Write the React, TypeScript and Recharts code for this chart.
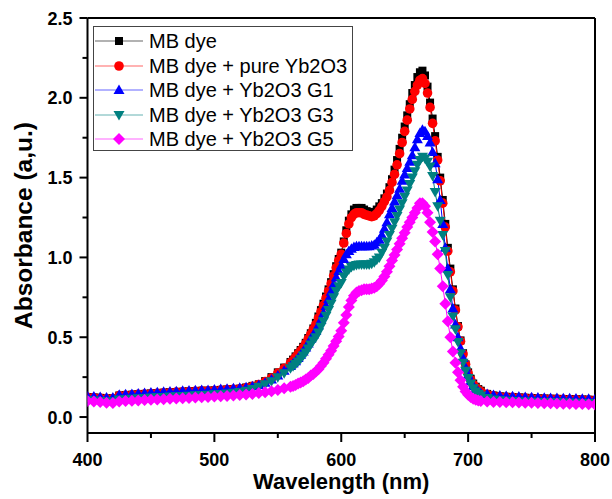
import React from 'react'
import { LineChart, Line, XAxis, YAxis, ReferenceLine, Label } from 'recharts'

// wavelength grid (nm) – coarse in the flat parts, 2 nm across the band
const wavelengths = [
  400, 405, 410, 415, 420, 425, 430, 435, 440, 445, 450, 455, 460, 465, 470, 475, 480, 485, 490, 495,
  500, 505, 510, 515, 520, 525, 530, 535, 540, 545, 550, 555,
  560, 562, 564, 566, 568, 570, 572, 574, 576, 578, 580, 582, 584, 586, 588, 590, 592, 594, 596, 598,
  600, 602, 604, 606, 608, 610, 612, 614, 616, 618, 620, 622, 624, 626, 628, 630, 632, 634, 636, 638,
  640, 642, 644, 646, 648, 650, 652, 654, 656, 658, 660, 662, 664, 666, 668, 670, 672, 674, 676, 678,
  680, 682, 684, 686, 688, 690, 692, 694, 696, 698, 700, 702, 704, 706, 708, 710,
  715, 720, 725, 730, 735, 740, 745, 750, 755, 760, 765, 770, 775, 780, 785, 790, 795, 800,
]

const mbDye = [
  0.125, 0.123, 0.12, 0.117, 0.117, 0.135, 0.137, 0.14, 0.143, 0.145, 0.148, 0.15, 0.153, 0.155, 0.157, 0.159, 0.161, 0.163, 0.165, 0.165,
  0.167, 0.17, 0.173, 0.175, 0.178, 0.185, 0.195, 0.205, 0.225, 0.25, 0.28, 0.31,
  0.345, 0.36, 0.38, 0.4, 0.42, 0.44, 0.465, 0.495, 0.525, 0.555, 0.59, 0.63, 0.67, 0.71, 0.755, 0.8, 0.845, 0.895, 0.945, 0.99,
  1.03, 1.1, 1.17, 1.23, 1.27, 1.3, 1.31, 1.31, 1.31, 1.3, 1.29, 1.285, 1.28, 1.285, 1.3, 1.32, 1.34, 1.37, 1.4, 1.44,
  1.49, 1.55, 1.61, 1.68, 1.75, 1.82, 1.89, 1.96, 2.03, 2.08, 2.13, 2.16, 2.17, 2.14, 2.07, 1.97, 1.87, 1.76, 1.63, 1.5,
  1.36, 1.21, 1.06, 0.93, 0.8, 0.68, 0.57, 0.48, 0.4, 0.33, 0.28, 0.24, 0.21, 0.19, 0.175, 0.165,
  0.145, 0.135, 0.13, 0.127, 0.125, 0.123, 0.121, 0.119, 0.117, 0.116, 0.115, 0.114, 0.113, 0.112, 0.111, 0.11, 0.109, 0.107,
]

const pureYb = [
  0.124, 0.122, 0.119, 0.116, 0.116, 0.134, 0.136, 0.139, 0.142, 0.144, 0.147, 0.149, 0.152, 0.154, 0.156, 0.158, 0.16, 0.162, 0.164, 0.164,
  0.166, 0.169, 0.172, 0.174, 0.177, 0.183, 0.193, 0.203, 0.222, 0.245, 0.275, 0.305,
  0.34, 0.355, 0.375, 0.395, 0.415, 0.435, 0.46, 0.49, 0.52, 0.55, 0.58, 0.62, 0.66, 0.7, 0.745, 0.79, 0.835, 0.885, 0.935, 0.98,
  1.02, 1.09, 1.15, 1.21, 1.25, 1.27, 1.28, 1.28, 1.28, 1.27, 1.265, 1.26, 1.255, 1.26, 1.275, 1.295, 1.32, 1.35, 1.38, 1.42,
  1.47, 1.52, 1.58, 1.65, 1.72, 1.79, 1.86, 1.93, 1.99, 2.04, 2.08, 2.11, 2.12, 2.09, 2.03, 1.94, 1.84, 1.73, 1.61, 1.48,
  1.34, 1.19, 1.04, 0.91, 0.79, 0.67, 0.565, 0.475, 0.395, 0.33, 0.275, 0.235, 0.205, 0.185, 0.17, 0.16,
  0.143, 0.133, 0.128, 0.125, 0.123, 0.121, 0.119, 0.117, 0.115, 0.114, 0.113, 0.112, 0.111, 0.11, 0.109, 0.108, 0.107, 0.105,
]

const ybG1 = [
  0.13, 0.128, 0.125, 0.122, 0.122, 0.14, 0.142, 0.145, 0.148, 0.15, 0.153, 0.155, 0.158, 0.16, 0.162, 0.164, 0.166, 0.168, 0.17, 0.17,
  0.172, 0.175, 0.178, 0.18, 0.183, 0.187, 0.193, 0.2, 0.215, 0.235, 0.26, 0.29,
  0.32, 0.335, 0.35, 0.37, 0.39, 0.41, 0.435, 0.46, 0.49, 0.515, 0.54, 0.575, 0.61, 0.65, 0.695, 0.74, 0.785, 0.83, 0.875, 0.915,
  0.95, 0.99, 1.02, 1.04, 1.055, 1.065, 1.07, 1.07, 1.07, 1.07, 1.07, 1.07, 1.075, 1.08, 1.095, 1.11, 1.14, 1.18, 1.22, 1.27,
  1.31, 1.35, 1.39, 1.43, 1.48, 1.52, 1.56, 1.6, 1.64, 1.69, 1.74, 1.78, 1.8, 1.79, 1.76, 1.72, 1.66, 1.59, 1.49, 1.36,
  1.21, 1.06, 0.93, 0.8, 0.68, 0.58, 0.5, 0.43, 0.37, 0.31, 0.265, 0.225, 0.195, 0.175, 0.16, 0.15,
  0.145, 0.138, 0.135, 0.132, 0.13, 0.128, 0.126, 0.124, 0.122, 0.121, 0.12, 0.119, 0.118, 0.117, 0.116, 0.115, 0.114, 0.112,
]

const ybG3 = [
  0.105, 0.103, 0.1, 0.098, 0.098, 0.11, 0.112, 0.115, 0.117, 0.12, 0.122, 0.124, 0.126, 0.128, 0.13, 0.132, 0.134, 0.136, 0.138, 0.14,
  0.142, 0.145, 0.148, 0.152, 0.157, 0.165, 0.175, 0.19, 0.205, 0.225, 0.25, 0.275,
  0.305, 0.318, 0.332, 0.348, 0.365, 0.385, 0.405, 0.43, 0.455, 0.48, 0.5, 0.53, 0.565, 0.6, 0.635, 0.67, 0.71, 0.75, 0.79, 0.82,
  0.84, 0.88, 0.905, 0.925, 0.94, 0.948, 0.952, 0.955, 0.955, 0.955, 0.955, 0.955, 0.96, 0.97, 0.985, 1.0, 1.03, 1.06, 1.1, 1.14,
  1.18, 1.22, 1.26, 1.3, 1.34, 1.38, 1.42, 1.46, 1.5, 1.54, 1.58, 1.61, 1.63, 1.62, 1.6, 1.57, 1.51, 1.41, 1.32, 1.23,
  1.14, 1.04, 0.89, 0.75, 0.63, 0.55, 0.47, 0.4, 0.34, 0.29, 0.245, 0.21, 0.18, 0.16, 0.145, 0.135,
  0.12, 0.11, 0.105, 0.102, 0.1, 0.098, 0.097, 0.096, 0.095, 0.094, 0.093, 0.092, 0.091, 0.09, 0.089, 0.088, 0.087, 0.086,
]

const ybG5 = [
  0.1, 0.097, 0.094, 0.09, 0.088, 0.098, 0.1, 0.102, 0.104, 0.106, 0.108, 0.11, 0.112, 0.114, 0.116, 0.118, 0.12, 0.122, 0.124, 0.126,
  0.128, 0.13, 0.132, 0.135, 0.138, 0.141, 0.145, 0.15, 0.155, 0.162, 0.17, 0.18,
  0.19, 0.195, 0.2, 0.21, 0.217, 0.225, 0.235, 0.245, 0.26, 0.27, 0.285, 0.3, 0.32, 0.34, 0.365, 0.39, 0.415, 0.445, 0.475, 0.505,
  0.54, 0.59, 0.64, 0.69, 0.73, 0.76, 0.78, 0.79, 0.795, 0.8, 0.8, 0.8, 0.805, 0.81, 0.82, 0.835, 0.855, 0.88, 0.91, 0.945,
  0.98, 1.015, 1.05, 1.085, 1.12, 1.155, 1.19, 1.22, 1.25, 1.28, 1.31, 1.34, 1.34, 1.32, 1.28, 1.22, 1.16, 1.1, 1.02, 0.93,
  0.82, 0.71, 0.6, 0.5, 0.41, 0.34, 0.28, 0.23, 0.19, 0.16, 0.14, 0.125, 0.115, 0.108, 0.104, 0.1,
  0.097, 0.095, 0.094, 0.093, 0.092, 0.091, 0.09, 0.089, 0.088, 0.087, 0.086, 0.085, 0.084, 0.083, 0.082, 0.081, 0.08, 0.079,
]

const xTicks = [400, 450, 500, 550, 600, 650, 700, 750, 800]
const yTicks = [0, 0.25, 0.5, 0.75, 1, 1.25, 1.5, 1.75, 2, 2.25, 2.5]

type Shape = 'square' | 'circle' | 'triangle' | 'triangleDown' | 'diamond'

const series: { key: string; name: string; color: string; shape: Shape; values: number[] }[] = [
  { key: 'mb', name: 'MB dye', color: '#000000', shape: 'square', values: mbDye },
  { key: 'pure', name: 'MB dye + pure Yb2O3', color: '#ff0000', shape: 'circle', values: pureYb },
  { key: 'g1', name: 'MB dye + Yb2O3 G1', color: '#0000ff', shape: 'triangle', values: ybG1 },
  { key: 'g3', name: 'MB dye + Yb2O3 G3', color: '#008080', shape: 'triangleDown', values: ybG3 },
  { key: 'g5', name: 'MB dye + Yb2O3 G5', color: '#ff00ff', shape: 'diamond', values: ybG5 },
]

const data = wavelengths.map((wl, i) => {
  const row: Record<string, number> = { wl }
  series.forEach((s) => {
    row[s.key] = s.values[i]
  })
  return row
})

const font = '"Liberation Sans", Arial, Helvetica, sans-serif'

function Marker({ shape, cx, cy, color }: { shape: Shape; cx: number; cy: number; color: string }) {
  switch (shape) {
    case 'square':
      return <rect x={cx - 4} y={cy - 4} width={8} height={8} fill={color} />
    case 'circle':
      return <circle cx={cx} cy={cy} r={4.8} fill={color} />
    case 'triangle':
      return <polygon points={`${cx},${cy - 5.5} ${cx - 5.5},${cy + 4} ${cx + 5.5},${cy + 4}`} fill={color} />
    case 'triangleDown':
      return <polygon points={`${cx - 5.5},${cy - 4} ${cx + 5.5},${cy - 4} ${cx},${cy + 5.5}`} fill={color} />
    default:
      return <polygon points={`${cx},${cy - 6} ${cx + 6},${cy} ${cx},${cy + 6} ${cx - 6},${cy}`} fill={color} />
  }
}

function XTick({ x, y, payload }: any) {
  const major = payload.value % 100 === 0
  return (
    <g>
      <line x1={x} x2={x} y1={y} y2={y + (major ? 9 : 5)} stroke="#000" strokeWidth={2} />
      {major && (
        <text x={x} y={y + 32.5} textAnchor="middle" fontFamily={font} fontWeight={700} fontSize={18} fill="#000">
          {payload.value}
        </text>
      )}
    </g>
  )
}

function YTick({ x, y, payload }: any) {
  const major = Math.abs(payload.value * 2 - Math.round(payload.value * 2)) < 1e-6
  return (
    <g>
      <line x1={x} x2={x - (major ? 8 : 5)} y1={y} y2={y} stroke="#000" strokeWidth={2} />
      {major && (
        <text x={x - 15} y={y + 6.5} textAnchor="end" fontFamily={font} fontWeight={700} fontSize={18} fill="#000">
          {payload.value.toFixed(1)}
        </text>
      )}
    </g>
  )
}

function XTitle({ viewBox }: any) {
  return (
    <text x={viewBox.x + viewBox.width / 2} y={489} textAnchor="middle" fontFamily={font} fontWeight={700} fontSize={22} fill="#000">
      Wavelength (nm)
    </text>
  )
}

function YTitle({ viewBox }: any) {
  const cy = viewBox.y + viewBox.height / 2
  return (
    <text x={32} y={cy} transform={`rotate(-90, 32, ${cy})`} textAnchor="middle" fontFamily={font} fontWeight={700} fontSize={24.5} fill="#000">
      Absorbance (a,u.)
    </text>
  )
}

function LegendBox() {
  return (
    <div
      style={{
        position: 'absolute',
        left: 93,
        top: 26,
        width: 258,
        height: 123,
        border: '1px solid #444',
        background: '#fff',
        fontFamily: font,
        fontSize: 20,
        color: '#000',
      }}
    >
      {series.map((s, i) => (
        <div key={s.key} style={{ position: 'absolute', left: 0, top: 2 + i * 24.6, height: 24, display: 'flex', alignItems: 'center' }}>
          <svg width={52} height={24} style={{ display: 'block' }}>
            <line x1={1} x2={49} y1={12} y2={12} stroke={s.color} strokeWidth={1} opacity={0.6} />
            <Marker shape={s.shape} cx={25} cy={12} color={s.color} />
          </svg>
          <span style={{ marginLeft: 3, whiteSpace: 'nowrap', lineHeight: '24px' }}>{s.name}</span>
        </div>
      ))}
    </div>
  )
}

export default function App() {
  return (
    <div style={{ position: 'absolute', left: 0, top: 0, width: 612, height: 499, background: '#fff' }}>
      <LineChart width={612} height={499} data={data} margin={{ top: 18, right: 17, bottom: 0, left: 0 }}>
        <XAxis
          dataKey="wl"
          type="number"
          domain={[400, 800]}
          ticks={xTicks}
          interval={0}
          allowDataOverflow
          height={66}
          tickSize={0}
          tickMargin={0}
          tickLine={false}
          tick={<XTick />}
          axisLine={{ stroke: '#000', strokeWidth: 2 }}
        >
          <Label content={<XTitle />} />
        </XAxis>
        <YAxis
          type="number"
          domain={[-0.1, 2.5]}
          ticks={yTicks}
          interval={0}
          allowDataOverflow
          width={87.5}
          tickSize={0}
          tickMargin={0}
          tickLine={false}
          tick={<YTick />}
          axisLine={{ stroke: '#000', strokeWidth: 2 }}
        >
          <Label content={<YTitle />} />
        </YAxis>
        {series.map((s) => (
          <Line
            key={s.key}
            dataKey={s.key}
            type="linear"
            stroke={s.color}
            strokeWidth={1}
            isAnimationActive={false}
            activeDot={false}
            dot={(p: any) => <Marker key={`${s.key}-${p.index}`} shape={s.shape} cx={p.cx} cy={p.cy} color={s.color} />}
          />
        ))}
        <ReferenceLine y={2.5} stroke="#000" strokeWidth={2} />
        <ReferenceLine x={800} stroke="#000" strokeWidth={2} />
      </LineChart>
      <LegendBox />
    </div>
  )
}
